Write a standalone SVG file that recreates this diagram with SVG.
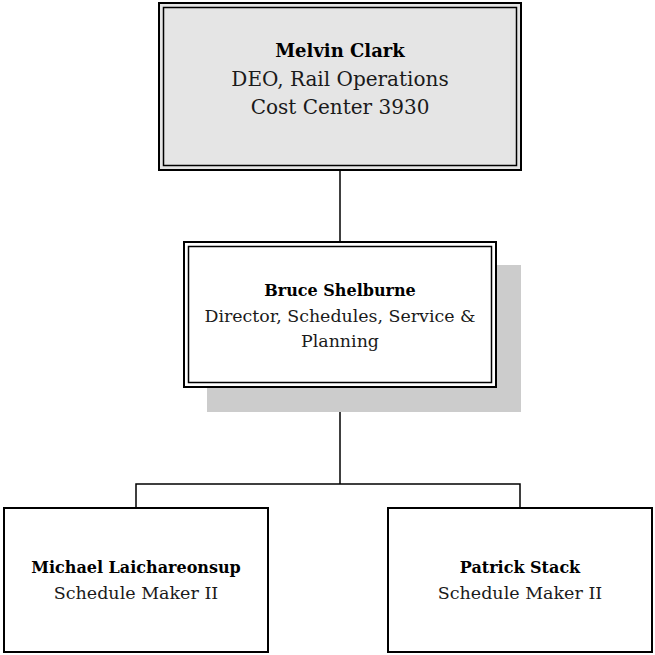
<svg xmlns="http://www.w3.org/2000/svg" width="655" height="655" viewBox="0 0 655 655">
<style>
.t{font-family:"DejaVu Serif","Liberation Serif",serif;text-anchor:middle;fill:#1a1a1a}
.b{font-weight:bold;fill:#000}
.dbl-i{fill:none;stroke:#000;stroke-width:1.5}
.conn{fill:none;stroke:#000;stroke-width:1.5}
</style>
<rect width="655" height="655" fill="#fff"/>
<g id="connectors">
<line class="conn" x1="340" y1="170" x2="340" y2="242"/>
<polyline class="conn" points="340,387 340,484"/>
<polyline class="conn" points="136,508 136,484 520,484 520,508"/>
</g>
<g id="melvin">
<rect x="159" y="3" width="362" height="167" fill="#e5e5e5" stroke="#000" stroke-width="2"/>
<rect x="163.5" y="7.5" width="353" height="158" class="dbl-i"/>
<text class="t b" font-size="18" x="340" y="57">Melvin Clark</text>
<text class="t" font-size="20" x="340" y="86">DEO, Rail Operations</text>
<text class="t" font-size="20" x="340" y="114">Cost Center 3930</text>
</g>
<g id="bruce">
<rect x="207" y="265" width="314" height="147" fill="#cccccc"/>
<rect x="184" y="242" width="312" height="145" fill="#fff" stroke="#000" stroke-width="2"/>
<rect x="188.5" y="246.5" width="303" height="136" class="dbl-i"/>
<text class="t b" font-size="16" x="340" y="296">Bruce Shelburne</text>
<text class="t" font-size="17.4" x="340" y="322">Director, Schedules, Service &amp;</text>
<text class="t" font-size="17.4" x="340" y="347">Planning</text>
</g>
<g id="michael">
<rect x="4" y="508" width="264" height="144" fill="#fff" stroke="#000" stroke-width="2"/>
<text class="t b" font-size="16" x="136" y="573">Michael Laichareonsup</text>
<text class="t" font-size="17.5" x="136" y="599">Schedule Maker II</text>
</g>
<g id="patrick">
<rect x="388" y="508" width="264" height="144" fill="#fff" stroke="#000" stroke-width="2"/>
<text class="t b" font-size="16" x="520" y="573">Patrick Stack</text>
<text class="t" font-size="17.5" x="520" y="599">Schedule Maker II</text>
</g>
</svg>
